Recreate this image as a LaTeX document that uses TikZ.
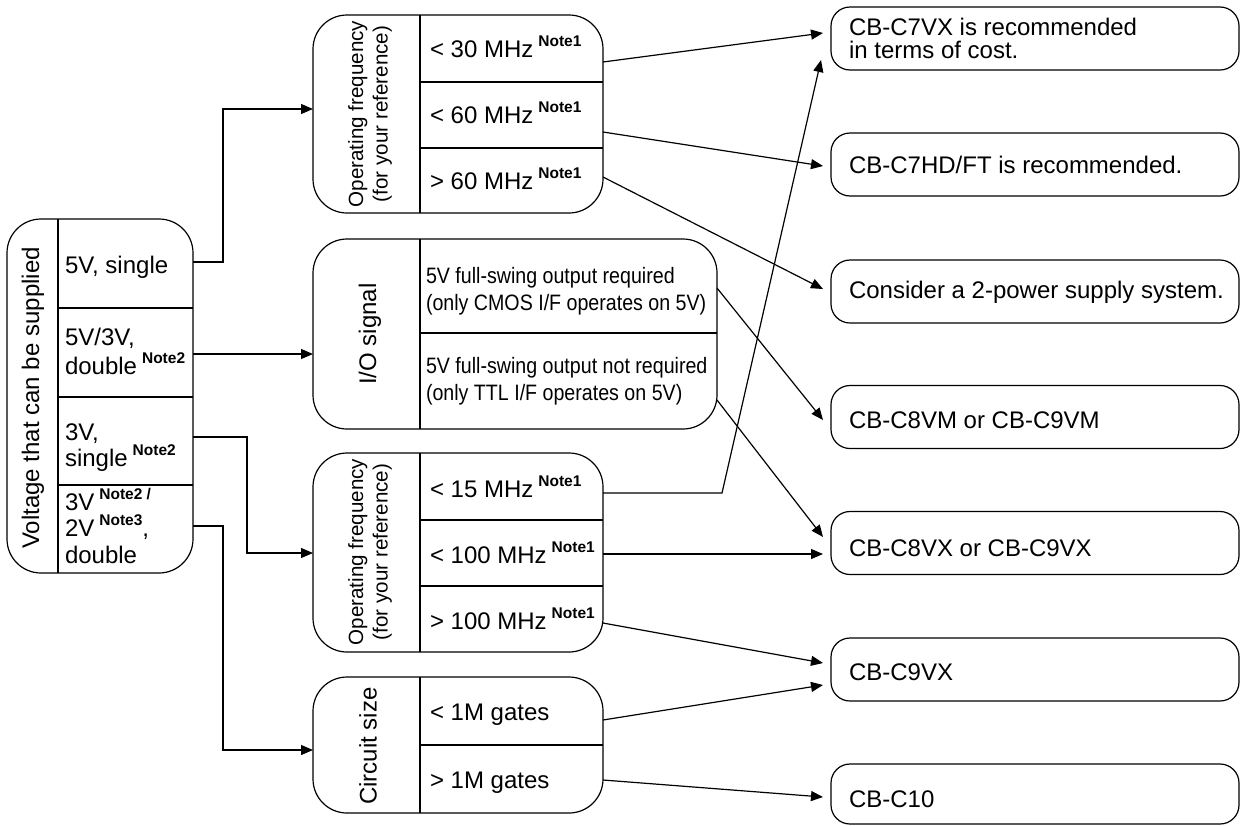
\documentclass[tikz,border=0pt]{standalone}
\usepackage{fontspec}
\setmainfont{Liberation Sans}
\newfontfamily\narrowfont[FakeStretch=0.88]{Liberation Sans}
\usetikzlibrary{arrows.meta,calc}
\newcommand\nt[1]{\hspace{2.5pt}\raisebox{5.5pt}{\fontsize{7.75}{8}\selectfont\bfseries #1}}
\begin{document}
\begin{tikzpicture}[x=0.5pt,y=-0.5pt, line width=0.6pt,
  box/.style={draw, rounded corners=17pt, inner sep=0pt, outer sep=0pt},
  rbox/.style={draw, rounded corners=9.5pt, inner sep=0pt, outer sep=0pt, minimum width=204pt, minimum height=31.5pt},
  txt/.style={inner sep=0pt, outer sep=0pt, font=\fontsize{12}{14.5}\selectfont, align=left},
  itxt/.style={inner sep=0pt, outer sep=0pt, font=\narrowfont\fontsize{11.15}{13.5}\selectfont, align=left},
  ftxt/.style={inner sep=0pt, outer sep=0pt, font=\fontsize{10.3}{12.25}\selectfont, align=center, rotate=90},
  arr/.style={-{Triangle[length=6pt,width=5pt]}}]
\useasboundingbox (0,0) rectangle (1240,825);

% ---- left box
\node[box, minimum width=93pt, minimum height=177pt] (L) at (100,396) {};
\draw (58,219) -- (58,573);
\draw (58,308) -- (193,308);
\draw (58,397) -- (193,397);
\draw (58,485) -- (193,485);
\node[txt, rotate=90] (Lt) at (33,398) {Voltage that can be supplied};
\node[txt, anchor=base west] (L1) at (65,273) {5V, single};
\node[txt, anchor=base west] (L2) at (65,374) {5V/3V,\\double\nt{Note2}};
\node[txt, anchor=base west, font=\fontsize{12}{13}\selectfont] (L3) at (65,466) {3V,\\single\nt{Note2}};
\node[txt, anchor=base west, font=\fontsize{12}{13.25}\selectfont] (L4) at (65,563) {3V\nt{Note2 /}\\2V\nt{Note3},\\double};

% ---- frequency box 1
\node[box, minimum width=145pt, minimum height=99pt] (F1) at (458,114) {};
\draw (420,15) -- (420,213);
\draw (420,82) -- (603,82);
\draw (420,148) -- (603,148);
\node[ftxt] (F1t) at (370,114) {Operating frequency\\(for your reference)};
\node[txt, anchor=base west] (F1a) at (430,57) {< 30 MHz\nt{Note1}};
\node[txt, anchor=base west] (F1b) at (430,123) {< 60 MHz\nt{Note1}};
\node[txt, anchor=base west] (F1c) at (430,189) {> 60 MHz\nt{Note1}};

% ---- I/O box
\node[box, minimum width=202pt, minimum height=95pt] (IO) at (515,334) {};
\draw (420,239) -- (420,429);
\draw (420,333) -- (717,333);
\node[txt, rotate=90] (IOt) at (370,334) {I/O signal};
\node[itxt, anchor=base west] (IOa) at (426,310) {5V full-swing output required\\(only CMOS I/F operates on 5V)};
\node[itxt, anchor=base west] (IOb) at (426,400) {5V full-swing output not required\\(only TTL I/F operates on 5V)};

% ---- frequency box 2
\node[box, minimum width=145pt, minimum height=99.5pt] (F2) at (458,552.5) {};
\draw (420,453) -- (420,652);
\draw (420,520) -- (603,520);
\draw (420,586) -- (603,586);
\node[ftxt] (F2t) at (370,552) {Operating frequency\\(for your reference)};
\node[txt, anchor=base west] (F2a) at (430,497) {< 15 MHz\nt{Note1}};
\node[txt, anchor=base west] (F2b) at (430,563) {< 100 MHz\nt{Note1}};
\node[txt, anchor=base west] (F2c) at (430,629) {> 100 MHz\nt{Note1}};

% ---- circuit size box
\node[box, minimum width=145pt, minimum height=68pt] (C) at (458,745) {};
\draw (420,677) -- (420,813);
\draw (420,745) -- (603,745);
\node[txt, rotate=90] (Ct) at (368,746) {Circuit size};
\node[txt, anchor=base west] (Ca) at (430,720) {< 1M gates};
\node[txt, anchor=base west] (Cb) at (430,788) {> 1M gates};

% ---- result boxes
\node[rbox] (R1) at (1035,38.5) {};
\node[rbox] (R2) at (1035,164.5) {};
\node[rbox] (R3) at (1035,291.5) {};
\node[rbox] (R4) at (1035,417) {};
\node[rbox] (R5) at (1035,543) {};
\node[rbox] (R6) at (1035,669.5) {};
\node[rbox, minimum height=30pt] (R7) at (1035,794) {};
\node[txt, anchor=base west, font=\fontsize{12}{11.5}\selectfont] (R1t) at (849,58) {CB-C7VX is recommended\\in terms of cost.};
\node[txt, anchor=base west] (R2t) at (849,173) {CB-C7HD/FT is recommended.};
\node[txt, anchor=base west] (R3t) at (849,298) {Consider a 2-power supply system.};
\node[txt, anchor=base west] (R4t) at (849,428) {CB-C8VM or CB-C9VM};
\node[txt, anchor=base west] (R5t) at (849,556) {CB-C8VX or CB-C9VX};
\node[txt, anchor=base west] (R6t) at (849,680) {CB-C9VX};
\node[txt, anchor=base west] (R7t) at (849,807) {CB-C10};

% ---- connectors from left box
\draw[arr] (L.east |- 0,262) -- (223,262) |- (F1.west |- 0,109);
\draw[arr] (L.east |- 0,354) -- (IO.west |- 0,354);
\draw[arr] (L.east |- 0,437) -- (247,437) |- (F2.west |- 0,553);
\draw[arr] (L.east |- 0,526) -- (223,526) |- (C.west |- 0,750);

% ---- connectors to results
\draw[arr] (F1.east |- 0,62) -- ($(R1.west |- 0,33)+(-8,0)$);
\draw[arr] (F1.east |- 0,132) -- ($(R2.west |- 0,166)+(-8,0)$);
\draw[arr] (F1.east |- 0,177) -- ($(R3.west |- 0,289)+(-8,0)$);
\draw[arr] (IO.east |- 0,288) -- ($(R4.west |- 0,420)+(-8,0)$);
\draw[arr] (IO.east |- 0,400) -- ($(R5.west |- 0,537)+(-8,0)$);
\draw[arr] (F2.east |- 0,493) -- (722,493) -- ($(R1.west |- 0,60)+(-10,0)$);
\draw[arr] (F2.east |- 0,554) -- ($(R5.west |- 0,554)+(-8,0)$);
\draw[arr] (F2.east |- 0,623) -- ($(R6.west |- 0,663)+(-8,0)$);
\draw[arr] (C.east |- 0,720) -- ($(R6.west |- 0,685)+(-8,0)$);
\draw[arr] (C.east |- 0,780) -- ($(R7.west |- 0,797)+(-8,0)$);
\end{tikzpicture}
\end{document}
